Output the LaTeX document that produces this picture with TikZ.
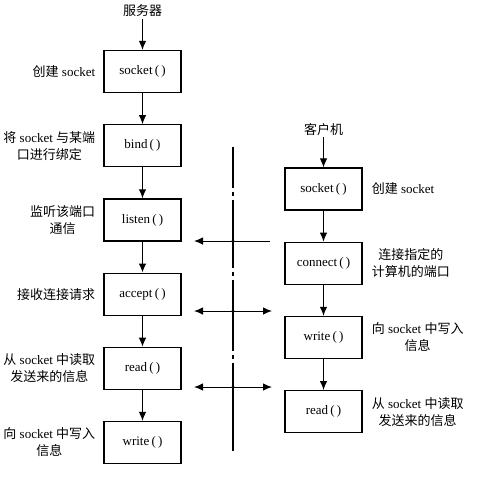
\documentclass[tikz,border=0pt]{standalone}
\usepackage{fontspec}
\setmainfont{Liberation Serif}
\newfontfamily\cjk{Noto Sans CJK SC}
\usetikzlibrary{positioning,arrows.meta}
\tikzset{
	>={Latex[length=9pt,width=7.5pt]},
	funcbox/.style={
		rectangle,
		draw, line width=1.2pt,
		minimum width=77pt,
		minimum height=42pt,
		inner sep=0pt,
		font=\fontsize{13}{17}\selectfont},
	lbl/.style={inner sep=0pt, align=center, font=\fontsize{13}{17}\selectfont},
	title/.style={inner sep=2pt, font=\fontsize{13}{17}\selectfont},
	line/.style={draw, line width=1pt, ->},
	sepline/.style={draw, line width=2.2pt},
}
\newcommand*\zh[1]{{\cjk #1}}

\begin{document}
\begin{tikzpicture}[x=1pt,y=-1pt,node distance=31pt]
\useasboundingbox (0,0) rectangle (485,483);
% server side
\node[funcbox] (ssocket) at (142.5,71.5) {socket\,(\,)};
\node[funcbox, below=of ssocket] (sbind) {bind\,(\,)};
\node[funcbox, below=of sbind] (slisten) {listen\,(\,)};
\node[funcbox, below=of slisten] (saccept) {accept\,(\,)};
\node[funcbox, below=of saccept] (sread) {read\,(\,)};
\node[funcbox, below=of sread] (swrite) {write\,(\,)};
\node[title, above=31pt of ssocket] (server) {\zh{服务器}};

\node[lbl, left=8pt of ssocket] {\zh{创建} socket};
\node[lbl, left=8pt of sbind] {\zh{将} socket \zh{与某端}\\\zh{口进行绑定}};
\node[lbl, left=8pt of slisten] {\zh{监听该端口}\\\zh{通信}};
\node[lbl, left=8pt of saccept] {\zh{接收连接请求}};
\node[lbl, left=8pt of sread] {\zh{从} socket \zh{中读取}\\\zh{发送来的信息}};
\node[lbl, left=8pt of swrite] {\zh{向} socket \zh{中写入}\\\zh{信息}};

% client side
\node[funcbox] (csocket) at (323.5,189) {socket\,(\,)};
\node[funcbox, below=of csocket] (cconnect) {connect\,(\,)};
\node[funcbox, below=of cconnect] (cwrite) {write\,(\,)};
\node[funcbox, below=of cwrite] (cread) {read\,(\,)};
\node[title, above=30pt of csocket] (client) {\zh{客户机}};

\node[lbl, right=9pt of csocket] {\zh{创建} socket};
\node[lbl, right=9pt of cconnect] {\zh{连接指定的}\\\zh{计算机的端口}};
\node[lbl, right=9pt of cwrite] {\zh{向} socket \zh{中写入}\\\zh{信息}};
\node[lbl, right=9pt of cread] {\zh{从} socket \zh{中读取}\\\zh{发送来的信息}};

\draw[line] (server) -- (ssocket);
\draw[line] (client) -- (csocket);
\foreach \a/\b in {ssocket/sbind, sbind/slisten, slisten/saccept,
	saccept/sread, sread/swrite, csocket/cconnect, cconnect/cwrite, cwrite/cread}
	\draw[line] (\a) -- (\b);

% dividing line
\foreach \a/\b in {147/188, 192/196, 200/268, 272/276, 280/351, 355/359, 363/451}
	\draw[sepline] (233,\a) -- (233,\b);

\coordinate (h1l) at (194,241);
\coordinate (h1r) at (270,241);
\coordinate (h2l) at (194,311);
\coordinate (h2r) at (272,311);
\coordinate (h3l) at (194,387);
\coordinate (h3r) at (272,387);
\draw[line] (h1r) -- (h1l);
\draw[line, <->] (h2l) -- (h2r);
\draw[line, <->] (h3l) -- (h3r);
\foreach \y in {241,311,387}
	\fill (233,\y) circle (1.6pt);
\end{tikzpicture}
\end{document}
